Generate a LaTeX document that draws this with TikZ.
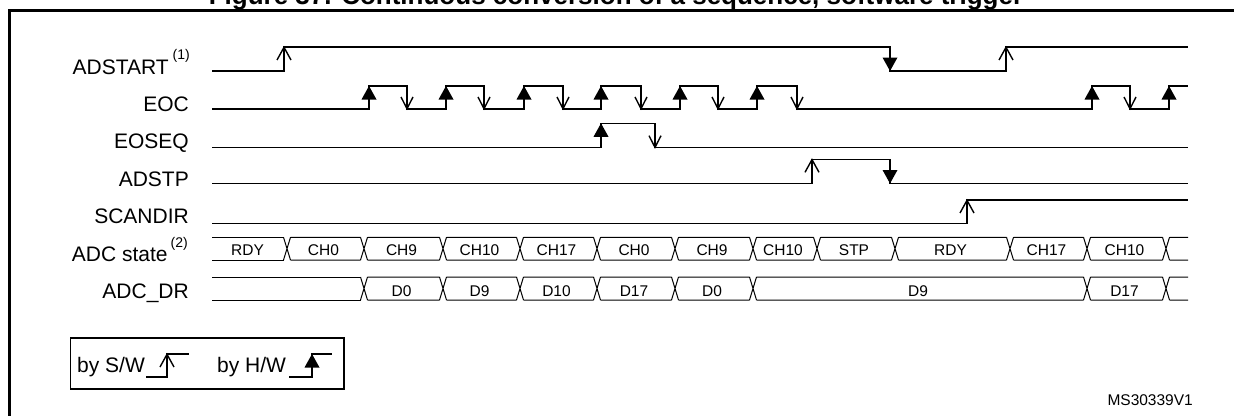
\documentclass[tikz,border=0pt]{standalone}
\usepackage{fontspec}
\setmainfont{Liberation Sans}
\newcommand{\swup}[2]{\draw[sig] ({#1-7},{#2+13}) -- (#1,{#2+0.3}) -- ({#1+7},{#2+13});}
\newcommand{\swdn}[2]{\draw[sig] ({#1-6},{#2-12}) -- (#1,{#2-0.3}) -- ({#1+6},{#2-12});}
\newcommand{\hwup}[2]{\fill (#1,#2) -- ({#1-7.5},{#2+13.5}) -- ({#1+7.5},{#2+13.5}) -- cycle;}
\newcommand{\hwdn}[2]{\fill (#1,#2) -- ({#1-7.5},{#2-13.5}) -- ({#1+7.5},{#2-13.5}) -- cycle;}
\begin{document}
\begin{tikzpicture}[x=1pt,y=-1pt,
  sig/.style={line width=1.4pt},
  busl/.style={line width=1pt},
  lab/.style={font=\fontsize{21}{24}\selectfont, inner sep=0pt, anchor=base east},
  leg/.style={font=\fontsize{21}{24}\selectfont, inner sep=0pt, anchor=base west},
  bt/.style={font=\fontsize{15.5}{18}\selectfont, inner sep=0pt, anchor=base}]
\useasboundingbox (0,0) rectangle (1234,415);
% title and frame
\node[font=\fontsize{26}{30}\selectfont\bfseries, inner sep=0pt, anchor=base] (title) at (616,5) {Figure 37. Continuous conversion of a sequence, software trigger};
\draw[line width=2.5pt] (9.5,420) -- (9.5,10.5) -- (1240,10.5);
% labels
\node[lab] (lADSTART) at (190,74) {ADSTART\hspace{4pt}\raisebox{15pt}{\fontsize{14}{14}\selectfont(1)}};
\node[lab] (lEOC) at (189,111) {EOC};
\node[lab] (lEOSEQ) at (189,148) {EOSEQ};
\node[lab] (lADSTP) at (189,186) {ADSTP};
\node[lab] (lSCANDIR) at (189,223) {SCANDIR};
\node[lab] (lSTATE) at (188,261) {ADC state\hspace{3pt}\raisebox{14pt}{\fontsize{14}{14}\selectfont(2)}};
\node[lab] (lDR) at (189,298) {ADC\_DR};
% ADSTART
\draw[sig] (212,71) -- (284,71) -- (284,47) -- (890,47) -- (890,71) -- (1006,71) -- (1006,47) -- (1188,47);
\swup{284}{47}
\hwdn{890}{71}
\swup{1006}{47}
% EOC
\draw[sig] (212,109) -- (369,109) -- (369,86) -- (407,86) -- (407,109) -- (446,109) -- (446,86) -- (484,86) -- (484,109) -- (524,109) -- (524,86) -- (563,86) -- (563,109) -- (601,109) -- (601,86) -- (641,86) -- (641,109) -- (680,109) -- (680,86) -- (718,86) -- (718,109) -- (757,109) -- (757,86) -- (797,86) -- (797,109) -- (1092,109) -- (1092,86) -- (1130,86) -- (1130,109) -- (1169,109) -- (1169,86) -- (1188,86);
\foreach \r in {369,446,524,601,680,757,1092,1169} {\hwup{\r}{86}}
\foreach \f in {407,484,563,641,718,797,1130} {\swdn{\f}{109}}
% EOSEQ
\draw[sig] (212,147.7) -- (601,147.7) -- (601,123.3) -- (655,123.3) -- (655,147.7) -- (1188,147.7);
\hwup{601}{123.3}
\swdn{655}{147.7}
% ADSTP
\draw[sig] (212,183.5) -- (812,183.5) -- (812,159.3) -- (890,159.3) -- (890,183.5) -- (1188,183.5);
\swup{812}{159.3}
\hwdn{890}{183.5}
% SCANDIR
\draw[sig] (212,223.3) -- (967,223.3) -- (967,200) -- (1188,200);
\swup{967}{200}
% ADC state bus
\draw[busl] (212,237.3) -- (283.5,237.3) (212,260) -- (283.5,260);
\foreach \c/\n in {287/364,364/443,443/520,520/597,597/675,675/753,753/817,817/895,895/1010,1010/1087,1087/1166,1166/1191.5} {
  \draw[busl] ({\c-3.5},237.3) -- ({\c+3.5},260) ({\c-3.5},260) -- ({\c+3.5},237.3)
    ({\c+3.5},237.3) -- ({\n-3.5},237.3) ({\c+3.5},260) -- ({\n-3.5},260);
}
\foreach \a/\b/\t [count=\i] in {212/287/RDY,287/364/CH0,364/443/CH9,443/520/CH10,520/597/CH17,597/675/CH0,675/753/CH9,753/817/CH10,817/895/STP,895/1010/RDY,1010/1087/CH17,1087/1166/CH10} {
  \node[bt] (st\i) at ({(\a+\b)/2-2},255) {\t};
}
% ADC_DR bus
\draw[busl] (212,277) -- (360.5,277) (212,300) -- (360.5,300);
\foreach \c/\n in {364/443,443/520,520/597,597/675,675/753,753/1087,1087/1166,1166/1191.5} {
  \draw[busl] ({\c-3.5},277) -- ({\c+3.5},300) ({\c-3.5},300) -- ({\c+3.5},277)
    ({\c+3.5},277) -- ({\n-3.5},277) ({\c+3.5},300) -- ({\n-3.5},300);
}
\foreach \a/\b/\t [count=\i] in {364/443/D0,443/520/D9,520/597/D10,597/675/D17,675/753/D0,753/1087/D9,1087/1166/D17} {
  \node[bt] (dr\i) at ({(\a+\b)/2-2},296) {\t};
}
% legend
\draw[line width=1.2pt] (70.7,338) rectangle (344,389);
\node[leg] (lsw) at (77,372) {by S/W};
\draw[sig] (146,377) -- (167,377) -- (167,354) -- (189,354);
\swup{167}{354}
\node[leg] (lhw) at (217,372) {by H/W};
\draw[sig] (289,377) -- (312,377) -- (312,354) -- (332,354);
\hwup{312}{354}
% id
\node[bt, anchor=base east] (ms) at (1193,405) {MS30339V1};
\end{tikzpicture}
\end{document}
